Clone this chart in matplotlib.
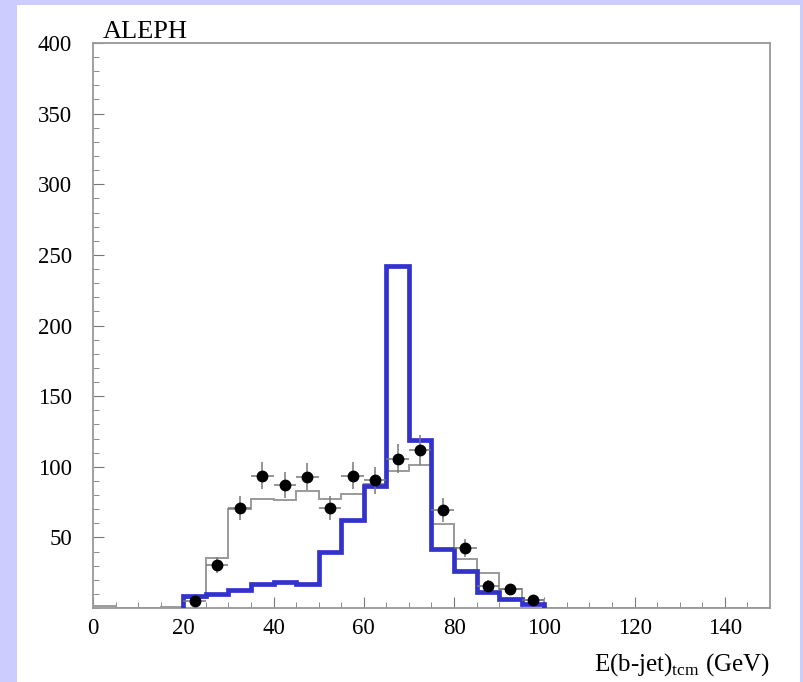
import matplotlib.pyplot as plt
import numpy as np
from matplotlib.patches import Rectangle

# bin edges (5 GeV wide)
edges = np.arange(0, 155, 5)

# MC total (grey)
mc_total = [1.5, 0, 0, 0.5, 7, 35.5, 70, 77, 76.5, 83, 77, 81, 88, 97, 101,
            59.5, 35, 25, 13.5, 5.5, 0, 0, 0, 0, 0, 0, 0, 0, 0, 0]
# signal (blue), bins 20-100 GeV
sig_edges = np.arange(20, 105, 5)
signal = [8.5, 9.7, 13, 17, 18.7, 17, 40, 62, 86.5, 242, 119, 42, 26.5, 11, 6.4, 2.6]

# data points
data_x = np.arange(22.5, 100, 5)
data_y = [5.2, 30.5, 70.7, 93.6, 87, 93, 70.7, 93.6, 90.5, 105.7, 111.6,
          69.5, 42.5, 15.8, 13.2, 5.4]

plt.rcParams['font.family'] = ['Liberation Serif', 'DejaVu Serif']

fig = plt.figure(figsize=(8.04, 6.82), dpi=100)
fig.patch.set_facecolor('#ccccff')
# white inner panel, behind the axes
fig.patches.append(Rectangle((17 / 804, 0), (800 - 17) / 804, (682 - 5) / 682,
                             transform=fig.transFigure, facecolor='white',
                             edgecolor='none', zorder=-10))

ax = fig.add_axes([93 / 804, 1 - 608 / 682, (770 - 93) / 804, (608 - 43) / 682])
ax.set_facecolor('white')

ax.stairs(mc_total, edges, color='#9a9a9a', linewidth=1.4, zorder=2)
ax.stairs(signal, sig_edges, color='#3333cc', linewidth=3.4, zorder=3)
ax.errorbar(data_x, data_y, xerr=2.5, yerr=np.sqrt(data_y), fmt='o',
            color='black', markersize=7.5, ecolor='#777777', elinewidth=1.1,
            capsize=0, zorder=4)

ax.set_xlim(0, 150)
ax.set_ylim(0, 400)
ax.set_xticks(np.arange(0, 150, 20))
ax.set_xticks(np.arange(0, 150, 5), minor=True)
ax.set_yticks(np.arange(50, 401, 50))
ax.set_yticks(np.arange(0, 400, 10), minor=True)
ax.tick_params(direction='in', which='major', length=8, color='#777777',
               labelsize=16.5, pad=7)
ax.tick_params(direction='in', which='minor', length=4, color='#777777')
ax.tick_params(axis='y', pad=15)
for s in ax.spines.values():
    s.set_color('#999999')
    s.set_linewidth(1.3)

ax.text(0.015, 1.0, 'ALEPH', transform=ax.transAxes, fontsize=19,
        ha='left', va='bottom')
ax.set_xlabel(r'E(b-jet)$_{\mathregular{tcm}}$ (GeV)', fontsize=18,
              loc='right', labelpad=9)

fig.savefig('out.png', dpi=100, facecolor=fig.get_facecolor())
